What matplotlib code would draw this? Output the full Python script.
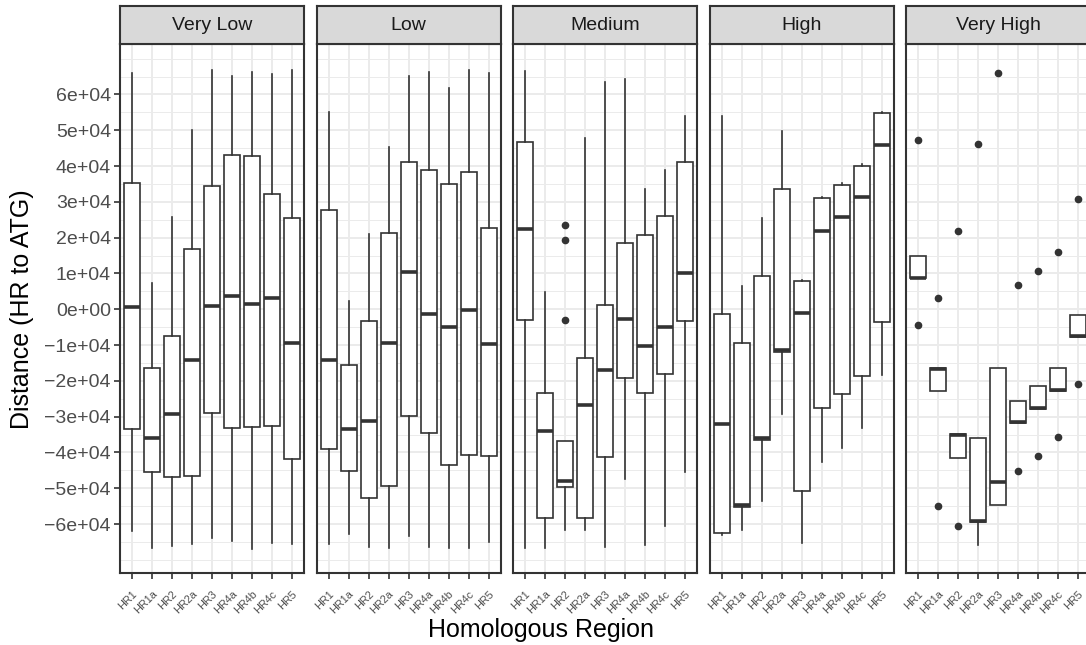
import matplotlib.pyplot as plt
import matplotlib.transforms as mtrans

plt.rcParams['font.family'] = ['Liberation Sans', 'DejaVu Sans']

regions = ["HR1", "HR1a", "HR2", "HR2a", "HR3", "HR4a", "HR4b", "HR4c", "HR5"]
levels = ["Very Low", "Low", "Medium", "High", "Very High"]

# per region: lower whisker, q1, median, q3, upper whisker  (units of 1e4)
very_low = [
    [-6.19, -3.35, 0.06, 3.53, 6.60],
    [-6.66, -4.55, -3.61, -1.65, 0.72],
    [-6.62, -4.69, -2.92, -0.76, 2.57],
    [-6.55, -4.67, -1.41, 1.69, 5.02],
    [-6.39, -2.89, 0.10, 3.45, 6.67],
    [-6.47, -3.33, 0.36, 4.31, 6.53],
    [-6.69, -3.30, 0.14, 4.29, 6.63],
    [-6.53, -3.26, 0.32, 3.23, 6.58],
    [-6.56, -4.18, -0.93, 2.55, 6.67],
]
low = [
    [-6.56, -3.91, -1.43, 2.78, 5.50],
    [-6.29, -4.53, -3.34, -1.57, 0.23],
    [-6.63, -5.28, -3.12, -0.32, 2.09],
    [-6.66, -4.93, -0.94, 2.12, 4.54],
    [-6.33, -2.97, 1.05, 4.10, 6.52],
    [-6.63, -3.47, -0.12, 3.89, 6.64],
    [-6.66, -4.36, -0.49, 3.51, 6.19],
    [-6.68, -4.07, -0.01, 3.83, 6.67],
    [-6.49, -4.11, -0.97, 2.28, 6.60],
]
medium = [
    [-6.68, -0.29, 2.25, 4.67, 6.65],
    [-6.68, -5.82, -3.41, -2.34, 0.49],
    [-6.16, -4.97, -4.81, -3.68, -3.68],
    [-6.17, -5.83, -2.68, -1.37, 4.79],
    [-6.65, -4.12, -1.70, 0.12, 6.35],
    [-4.73, -1.91, -0.26, 1.85, 6.42],
    [-6.58, -2.35, -1.03, 2.08, 3.37],
    [-6.05, -1.82, -0.50, 2.60, 3.90],
    [-4.56, -0.34, 1.00, 4.10, 5.39],
]
high = [
    [-6.31, -6.24, -3.20, -0.13, 5.39],
    [-6.16, -5.52, -5.47, -0.93, 0.66],
    [-5.37, -3.65, -3.59, 0.93, 2.54],
    [-2.92, -1.20, -1.14, 3.36, 4.97],
    [-6.53, -5.07, -0.11, 0.78, 0.83],
    [-4.26, -2.77, 2.19, 3.10, 3.13],
    [-3.87, -2.38, 2.59, 3.47, 3.52],
    [-3.33, -1.86, 3.13, 4.00, 4.05],
    [-1.83, -0.37, 4.59, 5.49, 5.52],
]
very_high = [
    [0.86, 0.86, 0.88, 1.50, 1.50],
    [-2.27, -2.27, -1.66, -1.64, -1.64],
    [-4.15, -4.15, -3.51, -3.49, -3.49],
    [-6.58, -5.94, -5.92, -3.61, -3.61],
    [-5.48, -5.48, -4.84, -1.64, -1.64],
    [-3.19, -3.19, -3.16, -2.55, -2.55],
    [-2.78, -2.78, -2.75, -2.15, -2.15],
    [-2.28, -2.28, -2.25, -1.64, -1.64],
    [-0.78, -0.78, -0.76, -0.15, -0.15],
]

medium_out = [[], [], [2.34, 1.94, -0.30], [], [], [], [], [], []]
very_high_out = [[4.72, -0.45], [0.32, -5.50], [2.18, -6.05], [4.63], [6.59],
                 [0.67, -4.51], [1.07, -4.10], [1.59, -3.58], [3.09, -2.08]]
no_out = [[] for _ in regions]

panel_data = [very_low, low, medium, high, very_high]
panel_out = [no_out, no_out, medium_out, no_out, very_high_out]

y_ticks = [-6e4, -5e4, -4e4, -3e4, -2e4, -1e4, 0, 1e4, 2e4, 3e4, 4e4, 5e4, 6e4]
y_labels = ["\u22126e+04", "\u22125e+04", "\u22124e+04", "\u22123e+04", "\u22122e+04",
            "\u22121e+04", "0e+00", "1e+04", "2e+04", "3e+04", "4e+04", "5e+04", "6e+04"]
y_minor = [-7e4, -6.5e4, -5.5e4, -4.5e4, -3.5e4, -2.5e4, -1.5e4, -0.5e4,
           0.5e4, 1.5e4, 2.5e4, 3.5e4, 4.5e4, 5.5e4, 6.5e4, 7e4]

W, H = 1086, 645
dark = '#333333'
grid_c = '#EBEBEB'

fig = plt.figure(figsize=(W / 100, H / 100), dpi=100)
# nudge rotated x labels a few pixels right, like ggplot's hjust=1
nudge = mtrans.ScaledTranslation(4 / 100, 0, fig.dpi_scale_trans)

pw = 184
top, bot = 44, 572.7
for i, lev in enumerate(levels):
    left = 120 + i * 196.5
    ax = fig.add_axes([left / W, (H - bot) / H, pw / W, (bot - top) / H])
    stats = []
    for row, fl in zip(panel_data[i], panel_out[i]):
        stats.append(dict(whislo=row[0] * 1e4, q1=row[1] * 1e4, med=row[2] * 1e4,
                          q3=row[3] * 1e4, whishi=row[4] * 1e4,
                          fliers=[v * 1e4 for v in fl]))
    ax.bxp(stats, positions=range(1, len(regions) + 1), widths=0.8,
           showcaps=False, patch_artist=True,
           boxprops=dict(facecolor='white', edgecolor=dark, linewidth=1.2),
           whiskerprops=dict(color=dark, linewidth=1.2),
           medianprops=dict(color=dark, linewidth=2.6),
           flierprops=dict(marker='o', markerfacecolor=dark, markeredgecolor=dark,
                           markersize=4.5, linestyle='none'))
    ax.set_xlim(0.4, 9.6)
    ax.set_ylim(-73600, 74100)
    ax.set_axisbelow(True)
    ax.set_yticks(y_ticks)
    ax.set_yticks(y_minor, minor=True)
    ax.grid(which='major', color=grid_c, linewidth=1.4)
    ax.grid(which='minor', axis='y', color=grid_c, linewidth=0.7)
    ax.set_xticks(range(1, len(regions) + 1))
    ax.set_xticklabels(regions, rotation=45, ha='right', va='top',
                       rotation_mode='anchor', fontsize=7.8, color='#4D4D4D')
    for lab in ax.get_xticklabels():
        lab.set_transform(lab.get_transform() + nudge)
    ax.tick_params(axis='x', length=4.5, width=1.2, color=dark, pad=7)
    ax.tick_params(which='minor', length=0)
    if i == 0:
        ax.set_yticklabels(y_labels, fontsize=14, color='#4D4D4D')
        ax.tick_params(axis='y', length=4.5, width=1.2, color=dark, pad=2)
    else:
        ax.tick_params(axis='y', left=False, labelleft=False)
    for s in ax.spines.values():
        s.set_color(dark)
        s.set_linewidth(1.5)

    sx = fig.add_axes([left / W, (H - top) / H, pw / W, 38 / H])
    sx.set_facecolor('#D9D9D9')
    sx.set_xticks([])
    sx.set_yticks([])
    for s in sx.spines.values():
        s.set_color(dark)
        s.set_linewidth(1.5)
    sx.text(0.5, 0.5, lev, ha='center', va='center', fontsize=14,
            color='#1A1A1A', transform=sx.transAxes)

fig.text(541 / W, 1 - 630 / H, "Homologous Region", ha='center', va='center', fontsize=18)
fig.text(22 / W, 1 - 309 / H, "Distance (HR to ATG)", ha='center', va='center',
         rotation=90, fontsize=18)

fig.savefig('out.png', dpi=100)
